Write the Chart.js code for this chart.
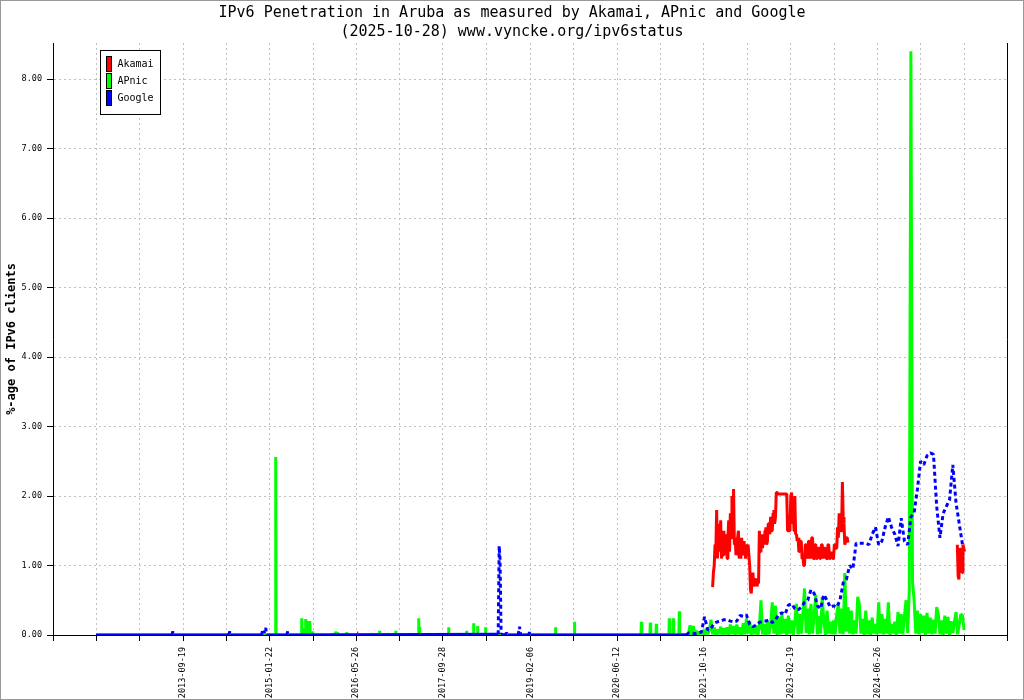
<!DOCTYPE html>
<html><head><meta charset="utf-8">
<script src="https://cdn.jsdelivr.net/npm/chart.js@4.4.1/dist/chart.umd.min.js"></script>
<style>html,body{margin:0;padding:0;background:#fff}canvas{display:block}</style>
</head><body>
<canvas id="c" width="1024" height="700"></canvas>
<script>
// ---------- text ----------
const titleLines = ['IPv6 Penetration in Aruba as measured by Akamai, APnic and Google', '(2025-10-28) www.vyncke.org/ipv6status'];
const yAxisTitle = '%-age of IPv6 clients';
const seriesNames = ['Akamai', 'APnic', 'Google'];
const seriesColors = ['#ff0000', '#00ff00', '#0000ff'];

// ---------- axes ----------
const xLabelDates = ['2013-09-19','2015-01-22','2016-05-26','2017-09-28','2019-02-06','2020-06-12','2021-10-16','2023-02-19','2024-06-26'];
const yTickValues = [0,1,2,3,4,5,6,7,8];
const yMax = 8.52;

// ---------- data (x = decimal year) ----------
const akamaiEarlyX = [2016.41, 2016.43];
const akamaiEarlyY = [0.03, 0.03];
const akamaiStart1 = 2021.925, akamaiStep = 0.0125;
const akamaiValues1 = [0.69,0.9,1.0,1.3,1.2,1.8,1.1,1.6,1.4,1.2,
 1.65,1.1,1.4,1.15,1.5,1.2,1.3,1.45,1.1,1.4,
 1.65,1.2,1.75,1.4,2.0,1.5,2.1,1.3,1.4,1.15,
 1.2,1.4,1.5,1.1,1.3,1.1,1.4,1.15,1.2,1.35,
 1.35,1.1,1.3,1.25,1.3,1.3,1.0,0.65,0.6,0.85,
 0.9,0.7,0.75,0.8,0.8,0.7,0.75,0.75,1.5,1.2,
 1.3,1.45,1.25,1.45,1.3,1.5,1.55,1.3,1.35,1.6,
 1.6,1.45,1.7,1.5,1.5,1.75,1.8,1.6,1.7,2.05,
 2.05,2.03,2.03,2.03,2.03,2.03,2.03,2.03,2.03,2.03,
 2.03,2.03,2.03,1.5,1.5,1.5,1.55,2.0,2.05,1.6,
 1.8,1.5,2.0,1.45,1.45,1.35,1.4,1.2,1.2,1.35,
 1.35,1.1,1.15,1.0,1.0,1.3,1.3,1.1,1.15,1.35,
 1.35,1.1,1.1,1.4,1.4,1.1,1.1,1.3,1.3,1.1,
 1.1,1.25,1.25,1.1,1.1,1.3,1.3,1.1,1.1,1.25,
 1.25,1.1,1.1,1.3,1.3,1.1,1.1,1.2,1.2,1.1,
 1.1,1.3,1.3,1.25,1.25,1.55,1.4,1.75,1.5,1.5,
 1.5,2.2,1.7,1.6,1.3,1.35,1.4,1.4,1.33,1.33];
const akamaiStart2 = 2025.72;
const akamaiValues2 = [1.3,0.85,0.8,1.25,1.2,1.0,0.9,1.3,1.25,1.2];

const apnicStartX = 2012.362;
const apnicSpikeX = [2015.150,2015.553,2015.584,2015.615,2015.646,2015.677,2015.723,2016.033,2016.079,2016.110,2016.250,2016.761,2017.009,2017.365,2017.380,2017.830,2018.109,2018.217,2018.279,2018.403,2019.488,2019.782,2020.820,2020.959,2021.052,2021.253,2021.315,2021.408];
const apnicSpikeY = [2.56,0.24,0.1,0.23,0.2,0.2,0.05,0.03,0.05,0.04,0.04,0.06,0.06,0.24,0.12,0.11,0.06,0.17,0.13,0.11,0.11,0.19,0.19,0.18,0.16,0.24,0.24,0.34];
const apnicStart = 2021.55, apnicStep = 0.025;
const apnicValues = [0.01,0.14,0.0,0.13,0.01,0.06,0.0,0.05,0.01,0.07,
 0.0,0.09,0.01,0.07,0.22,0.01,0.11,0.0,0.08,0.01,
 0.12,0.0,0.1,0.01,0.11,0.0,0.15,0.01,0.13,0.0,
 0.15,0.01,0.11,0.0,0.17,0.01,0.24,0.02,0.2,0.0,
 0.12,0.01,0.14,0.0,0.1,0.5,0.01,0.16,0.0,0.19,
 0.01,0.15,0.47,0.02,0.42,0.0,0.26,0.01,0.3,0.02,
 0.23,0.0,0.28,0.02,0.21,0.0,0.19,0.45,0.01,0.3,
 0.02,0.31,0.67,0.03,0.38,0.01,0.45,0.02,0.3,0.58,
 0.01,0.27,0.02,0.55,0.2,0.0,0.35,0.02,0.19,0.01,
 0.21,0.01,0.3,0.45,0.02,0.38,0.01,0.89,0.05,0.4,
 0.02,0.35,0.01,0.21,0.02,0.55,0.45,0.02,0.23,0.0,
 0.35,0.01,0.21,0.0,0.25,0.02,0.16,0.01,0.47,0.02,
 0.3,0.01,0.23,0.02,0.47,0.0,0.16,0.02,0.19,0.0,
 0.33,0.02,0.3,0.01,0.28,0.5,0.03,0.65,8.4,0.76,
 0.5,0.02,0.35,0.01,0.3,0.03,0.28,0.0,0.32,0.02,
 0.25,0.01,0.22,0.02,0.4,0.3,0.01,0.21,0.0,0.28,
 0.02,0.26,0.0,0.2,0.03,0.19,0.33,0.01,0.16,0.3,
 0.28,0.07];

const googleEarlyX = [2012.362,2013.54,2013.555,2013.57,2014.42,2014.438,2014.455,2014.93,2014.949,2014.97,2014.995,2015.01,2015.32,2015.336,2015.35,2018.60,2018.615,2018.628,2018.645,2018.70,2018.729,2018.75,2018.91,2018.93,2018.95,2019.07,2019.085,2019.10,2021.52];
const googleEarlyY = [0,0,0.05,0,0,0.05,0,0,0.08,0.03,0.1,0,0,0.05,0,0.01,1.28,1.1,0.01,0,0.03,0,0,0.12,0,0,0.04,0,0];
const googleStart = 2021.55, googleStep = 0.05;
const googleValues = [0.03,0.03,0.02,0.03,0.04,0.26,0.07,0.1,0.17,0.19,
 0.2,0.22,0.22,0.2,0.19,0.2,0.28,0.27,0.29,0.15,
 0.12,0.14,0.18,0.2,0.2,0.22,0.18,0.22,0.3,0.32,
 0.3,0.43,0.45,0.38,0.36,0.4,0.47,0.5,0.65,0.6,
 0.42,0.38,0.58,0.5,0.4,0.42,0.4,0.5,0.75,0.8,
 1.0,0.95,1.32,1.32,1.32,1.32,1.3,1.45,1.55,1.3,
 1.35,1.55,1.7,1.55,1.45,1.28,1.68,1.35,1.3,1.7,
 1.76,2.09,2.5,2.45,2.58,2.62,2.6,1.85,1.4,1.75,
 1.85,1.95,2.45,1.9,1.6,1.3];

// ---------- helpers ----------
function decYear(s){const [y,m,d]=s.split('-').map(Number);const t=Date.UTC(y,m-1,d),a=Date.UTC(y,0,1),b=Date.UTC(y+1,0,1);return y+(t-a)/(b-a);}
const xLabelYears = xLabelDates.map(decYear);
const tickStep = (xLabelYears[xLabelYears.length-1]-xLabelYears[0])/((xLabelYears.length-1)*2);
const xTicks = [], xTickText = [];
const nBefore = 3, nAfter = 3;
for (let k = 0; k < nBefore; k++) { xTicks.push(xLabelYears[0]-(nBefore-k)*tickStep); xTickText.push(''); }
xLabelYears.forEach((v,i) => {
  if (i > 0) { xTicks.push((xLabelYears[i-1]+v)/2); xTickText.push(''); }
  xTicks.push(v); xTickText.push(xLabelDates[i]);
});
for (let k = 1; k <= nAfter; k++) { xTicks.push(xLabelYears[xLabelYears.length-1]+k*tickStep); xTickText.push(''); }

const pts = (xs, ys) => xs.map((x,i)=>({x, y: ys[i]}));
const regular = (start, step, vals) => vals.map((v,i)=>({x: start+i*step, y: v}));

const akamaiData = [...pts(akamaiEarlyX, akamaiEarlyY), {x: 2019, y: null},
  ...regular(akamaiStart1, akamaiStep, akamaiValues1), {x: 2024, y: null},
  ...regular(akamaiStart2, akamaiStep, akamaiValues2)];
const apnicData = [{x: apnicStartX, y: 0}];
apnicSpikeX.forEach((x,i)=>{ apnicData.push({x: x-0.006, y: 0}, {x, y: apnicSpikeY[i]}, {x: x+0.006, y: 0}); });
apnicData.push(...regular(apnicStart, apnicStep, apnicValues));
const googleData = [...pts(googleEarlyX, googleEarlyY), ...regular(googleStart, googleStep, googleValues)];

const mono = '"DejaVu Sans Mono", monospace';

const framePlugin = {
  id: 'frame',
  beforeDraw(chart) { const c = chart.ctx; c.save(); c.fillStyle = '#fff'; c.fillRect(0,0,chart.width,chart.height); c.restore(); },
  afterDraw(chart) {
    const c = chart.ctx, a = chart.chartArea;
    c.save();
    // legend box
    const x0 = a.left + 47.5, y0 = a.top + 7.5;
    c.fillStyle = '#fff'; c.fillRect(x0, y0, 60, 64);
    c.strokeStyle = '#000'; c.lineWidth = 1; c.strokeRect(x0, y0, 60, 64);
    c.font = '10px ' + mono; c.textBaseline = 'middle'; c.textAlign = 'left';
    seriesNames.forEach((n, i) => {
      const sy = y0 + 6 + i * 17;
      c.fillStyle = seriesColors[i]; c.fillRect(x0 + 6, sy, 5, 15);
      c.strokeStyle = '#000'; c.strokeRect(x0 + 6, sy, 5, 15);
      c.fillStyle = '#000'; c.fillText(n, x0 + 17, sy + 8);
    });
    // outer frame
    c.strokeStyle = '#999'; c.strokeRect(0.5, 0.5, chart.width - 1, chart.height - 1);
    c.restore();
  }
};

new Chart(document.getElementById('c'), {
  type: 'line',
  data: { datasets: [
    { label: seriesNames[0], data: akamaiData, borderColor: seriesColors[0], backgroundColor: seriesColors[0], borderWidth: 3, pointRadius: 0, spanGaps: false, order: 0, borderJoinStyle: 'bevel' },
    { label: seriesNames[1], data: apnicData, borderColor: seriesColors[1], backgroundColor: seriesColors[1], borderWidth: 3, pointRadius: 0, order: 2, borderJoinStyle: 'bevel' },
    { label: seriesNames[2], data: googleData, borderColor: seriesColors[2], backgroundColor: seriesColors[2], borderWidth: 3, pointRadius: 0, order: 1, borderJoinStyle: 'bevel',
      segment: { borderDash: ctx => (ctx.p0.parsed.y <= 0.015 && ctx.p1.parsed.y <= 0.015) ? [] : [4, 3] } }
  ]},
  options: {
    responsive: false, animation: false, devicePixelRatio: 1,
    layout: { padding: { left: 0, right: 0, top: 0, bottom: 0 } },
    plugins: {
      legend: { display: false }, tooltip: { enabled: false },
      title: { display: true, text: titleLines, color: '#000', font: { family: mono, size: 15, weight: 'normal', lineHeight: '19px' }, padding: { top: 4, bottom: 1 } }
    },
    scales: {
      x: {
        type: 'linear', min: xTicks[0], max: xTicks[xTicks.length-1],
        afterBuildTicks: s => { s.ticks = xTicks.map(v => ({ value: v })); },
        afterFit: s => { s.height = 65; },
        ticks: { autoSkip: false, minRotation: 90, maxRotation: 90, padding: 6, color: '#000', font: { family: mono, size: 8.5 },
          callback: (v, i) => xTickText[i] },
        grid: { color: '#c0c0c0', lineWidth: 1, tickColor: '#000', tickLength: 6, tickBorderDash: [] },
        border: { color: '#000', width: 1, dash: [2, 3] }
      },
      y: {
        type: 'linear', min: 0, max: yMax,
        afterBuildTicks: s => { s.ticks = yTickValues.map(v => ({ value: v })); },
        afterFit: s => { s.width = 53; },
        ticks: { padding: 5, color: '#000', font: { family: mono, size: 8.5 }, callback: v => Number(v).toFixed(2) },
        grid: { color: '#c0c0c0', lineWidth: 1, tickColor: '#000', tickLength: 6, tickBorderDash: [] },
        border: { color: '#000', width: 1, dash: [2, 3] },
        title: { display: true, text: yAxisTitle, color: '#000', font: { family: mono, size: 12, weight: 'bold' }, padding: { top: 5, bottom: 0 } }
      },
      y2: {
        type: 'linear', position: 'right', display: true,
        afterFit: s => { s.width = 15; },
        ticks: { display: false }, grid: { display: false, drawTicks: false },
        border: { display: true, color: '#000', width: 1 }
      }
    }
  },
  plugins: [framePlugin]
});
</script>
</body></html>
